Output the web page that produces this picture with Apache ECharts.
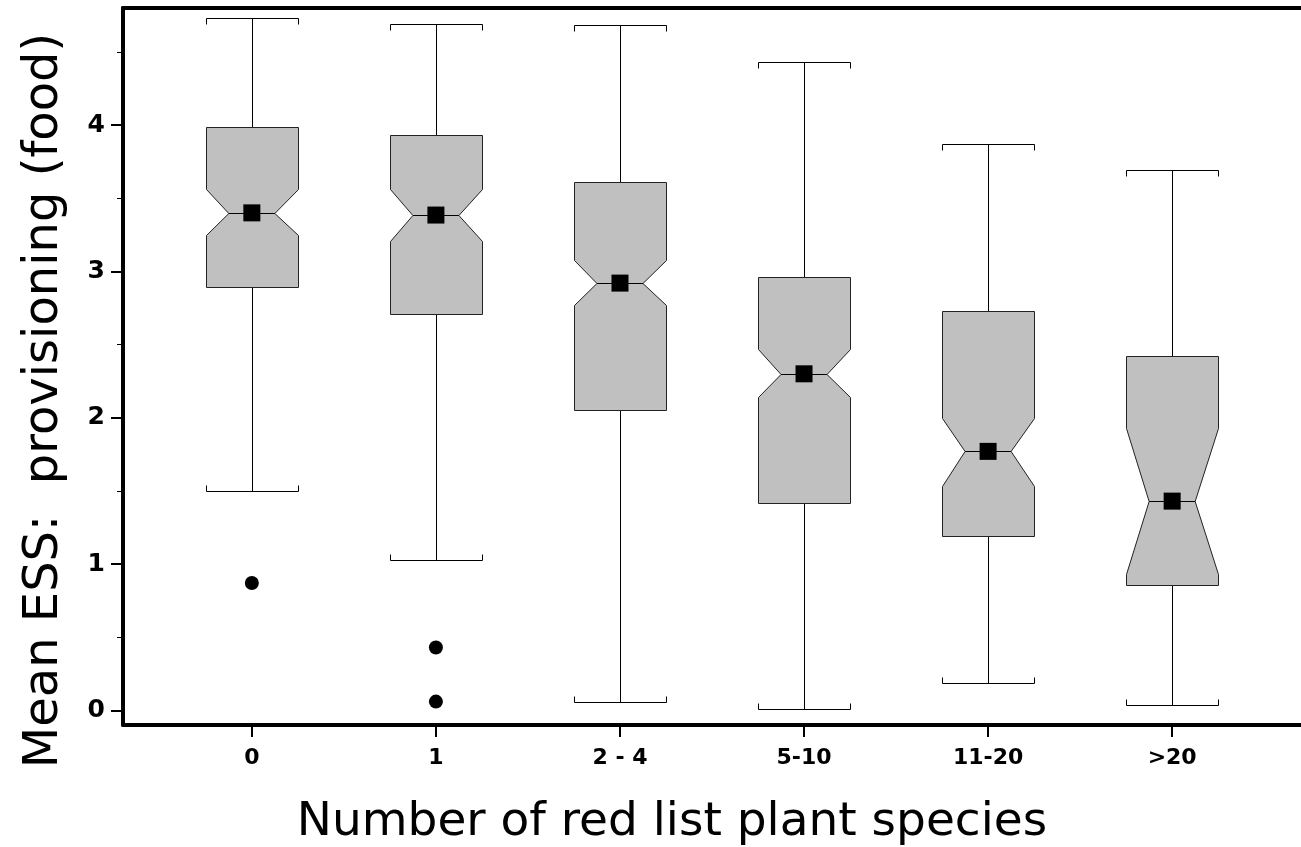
<!DOCTYPE html>
<html>
<head>
<meta charset="utf-8">
<script src="https://cdn.jsdelivr.net/npm/echarts@6/dist/echarts.min.js"></script>
<style>
  html, body { margin: 0; padding: 0; background: #fff; }
  #main { width: 1301px; height: 847px; }
</style>
</head>
<body>
<div id="main"></div>
<script>
// categories on the x axis
var categories = ['0', '1', '2 - 4', '5-10', '11-20', '>20'];
// box plot statistics, one value per category
var whiskerLow  = [1.50, 1.03, 0.06, 0.01, 0.19, 0.04];
var q1          = [2.89, 2.71, 2.05, 1.42, 1.19, 0.86];
var notchLow    = [3.25, 3.21, 2.77, 2.14, 1.53, 0.93];
var median      = [3.40, 3.385, 2.92, 2.30, 1.77, 1.43];
var notchHigh   = [3.56, 3.56, 3.08, 2.47, 2.00, 1.93];
var q3          = [3.99, 3.93, 3.61, 2.96, 2.73, 2.42];
var whiskerHigh = [4.73, 4.69, 4.685, 4.43, 3.87, 3.69];
// square markers (centre of each box)
var centerMark  = [3.40, 3.385, 2.92, 2.30, 1.77, 1.43];
// outliers: [category index, value]
var outliers = [[0, 0.87], [1, 0.43], [1, 0.06]];
// tick values
var yTicks = [0, 1, 2, 3, 4];
var yMinorTicks = [0.5, 1.5, 2.5, 3.5, 4.5];
var xTicks = [0, 1, 2, 3, 4, 5];

var boxData = categories.map(function (c, i) {
    return [i, whiskerLow[i], q1[i], notchLow[i], median[i], notchHigh[i], q3[i], whiskerHigh[i]];
});

function crisp(v) { return Math.round(v) + 0.5; }

function renderBox(params, api) {
    var x = api.value(0);
    var halfW = 0.25, indent = 0.125;
    var L = crisp(api.coord([x - halfW, 0])[0]);
    var R = crisp(api.coord([x + halfW, 0])[0]);
    var C = crisp(api.coord([x, 0])[0]);
    var inL = api.coord([x - halfW + indent, 0])[0];
    var inR = api.coord([x + halfW - indent, 0])[0];
    function y(k) { return crisp(api.coord([x, api.value(k)])[1]); }
    var yWl = y(1), yQ1 = y(2), yNl = y(3), yMed = y(4), yNh = y(5), yQ3 = y(6), yWh = y(7);
    var lineStyle = { stroke: '#000', lineWidth: 1, fill: null };
    var capTick = 6;
    return {
        type: 'group',
        children: [
            { type: 'line', shape: { x1: C, y1: yWh, x2: C, y2: yQ3 }, style: lineStyle },
            { type: 'line', shape: { x1: C, y1: yQ1, x2: C, y2: yWl }, style: lineStyle },
            { type: 'polyline', shape: { points: [[L, yWh + capTick], [L, yWh], [R, yWh], [R, yWh + capTick]] }, style: lineStyle },
            { type: 'polyline', shape: { points: [[L, yWl - capTick], [L, yWl], [R, yWl], [R, yWl - capTick]] }, style: lineStyle },
            {
                type: 'polygon',
                shape: {
                    points: [
                        [L, yQ3], [R, yQ3], [R, yNh], [inR, yMed], [R, yNl], [R, yQ1],
                        [L, yQ1], [L, yNl], [inL, yMed], [L, yNh]
                    ]
                },
                style: { fill: '#c0c0c0', stroke: '#222', lineWidth: 1 }
            },
            { type: 'line', shape: { x1: inL, y1: yMed, x2: inR, y2: yMed }, style: lineStyle }
        ]
    };
}

var myChart = echarts.init(document.getElementById('main'), null, { renderer: 'canvas' });

var option = {
    backgroundColor: '#fff',
    animation: false,
    grid: { left: 123, right: 0, top: 8, bottom: 122, containLabel: false, outerBoundsMode: 'none' },
    xAxis: [
        {
            type: 'value',
            min: -0.7,
            max: 5.7,
            name: 'Number of red list plant species',
            nameLocation: 'middle',
            nameGap: 74,
            nameTextStyle: { fontFamily: 'DejaVu Sans', fontSize: 47, color: '#000', padding: [0, 80, 0, 0] },
            splitLine: { show: false },
            axisLine: { show: true, onZero: false, lineStyle: { color: '#000', width: 4 } },
            axisTick: { show: true, customValues: xTicks, length: 12, lineStyle: { color: '#000', width: 2 } },
            axisLabel: {
                customValues: xTicks,
                margin: 22,
                fontFamily: 'DejaVu Sans',
                fontWeight: 'bold',
                fontSize: 22,
                color: '#000',
                formatter: function (v) { return categories[Math.round(v)]; }
            }
        },
        {
            type: 'value',
            position: 'top',
            min: -0.7,
            max: 5.7,
            splitLine: { show: false },
            axisLine: { show: true, onZero: false, lineStyle: { color: '#000', width: 4 } },
            axisTick: { show: false },
            axisLabel: { show: false }
        }
    ],
    yAxis: [
        {
            type: 'value',
            min: -0.1,
            max: 4.8,
            name: 'Mean ESS:  provisioning (food)',
            nameLocation: 'middle',
            nameGap: 54,
            nameTextStyle: { fontFamily: 'DejaVu Sans', fontSize: 48, color: '#000', padding: [0, 68, 0, 0] },
            splitLine: { show: false },
            axisLine: { show: true, onZero: false, lineStyle: { color: '#000', width: 4 } },
            axisTick: { show: true, customValues: yTicks, length: 12, lineStyle: { color: '#000', width: 2 } },
            axisLabel: {
                customValues: yTicks,
                margin: 18,
                fontFamily: 'DejaVu Sans',
                fontWeight: 'bold',
                fontSize: 25,
                color: '#000'
            }
        },
        {
            type: 'value',
            position: 'left',
            min: -0.1,
            max: 4.8,
            splitLine: { show: false },
            axisLine: { show: false, onZero: false },
            axisTick: { show: true, customValues: yMinorTicks, length: 6, lineStyle: { color: '#000', width: 1 } },
            axisLabel: { show: false }
        }
    ],
    series: [
        {
            type: 'custom',
            renderItem: renderBox,
            data: boxData,
            encode: { x: 0, y: [1, 2, 3, 4, 5, 6, 7] },
            z: 2
        },
        {
            type: 'scatter',
            data: centerMark.map(function (v, i) { return [i, v]; }),
            symbol: 'rect',
            symbolSize: 17,
            itemStyle: { color: '#000', opacity: 1 },
            z: 3
        },
        {
            type: 'scatter',
            data: outliers,
            symbol: 'circle',
            symbolSize: 14,
            itemStyle: { color: '#000', opacity: 1 },
            z: 3
        }
    ]
};

if (option && typeof option === "object") {
    myChart.setOption(option, true);
}
</script>
</body>
</html>
